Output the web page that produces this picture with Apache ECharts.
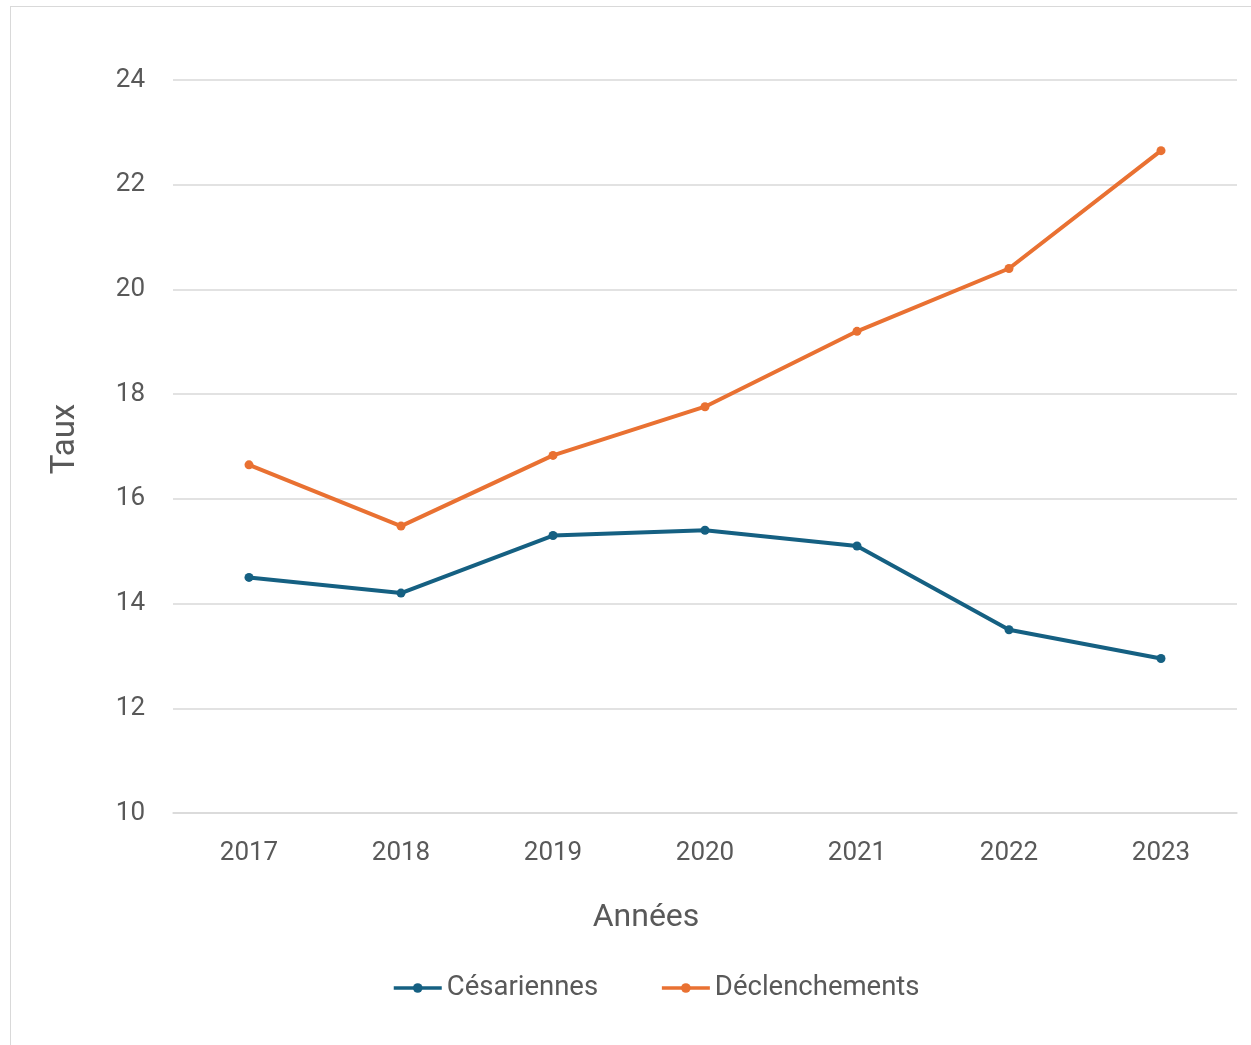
<!DOCTYPE html>
<html><head><meta charset="utf-8">
<script src="https://cdn.jsdelivr.net/npm/echarts@6/dist/echarts.min.js"></script>
<style>
html,body{margin:0;padding:0;background:#fff;}
#frame{position:absolute;left:10px;top:6px;width:1260px;height:1060px;border:1.5px solid #d9d9d9;box-sizing:border-box;}
#c{position:absolute;left:0;top:0;width:1251px;height:1045px;}
</style></head>
<body>
<div id="frame"></div>
<div id="c"></div>
<script>
const years = ['2017','2018','2019','2020','2021','2022','2023'];
const cesariennes = [14.5, 14.2, 15.3, 15.4, 15.1, 13.5, 12.95];
const declenchements = [16.65, 15.48, 16.83, 17.76, 19.2, 20.4, 22.65];
const seriesNames = ['Césariennes', 'Déclenchements'];
const xAxisTitle = 'Années';
const yAxisTitle = 'Taux';
const FONT = 'Roboto';
const TXT = '#595959';
const chart = echarts.init(document.getElementById('c'), null, {renderer:'canvas'});
chart.setOption({
  backgroundColor: 'transparent',
  animation: false,
  grid: {left: 173, right: 14, top: 80, bottom: 232, containLabel: false},
  legend: {
    top: 969, left: 387,
    itemWidth: 48, itemHeight: 12, itemGap: 62,
    lineStyle: {width: 3.5},
    textStyle: {fontFamily: FONT, fontSize: 27.5, color: TXT},
    data: seriesNames
  },
  graphic: [
    {type: 'text', x: 646, y: 918, style: {text: xAxisTitle, font: '32px ' + FONT, fill: TXT, align: 'center', verticalAlign: 'middle'}},
    {type: 'text', x: 66, y: 439, rotation: Math.PI / 2, style: {text: yAxisTitle, font: '33px ' + FONT, fill: TXT, align: 'center', verticalAlign: 'middle'}}
  ],
  xAxis: {
    type: 'category', data: years, boundaryGap: true,
    axisLine: {show: true, lineStyle: {color: '#d9d9d9', width: 1.5}},
    axisTick: {show: false},
    axisLabel: {fontFamily: FONT, fontSize: 26, color: TXT, margin: 27}
  },
  yAxis: {
    type: 'value', min: 10, max: 24, interval: 2,
    axisLine: {show: false}, axisTick: {show: false},
    axisLabel: {fontFamily: FONT, fontSize: 26, color: TXT, margin: 28},
    splitLine: {lineStyle: {color: '#d9d9d9', width: 1.5}}
  },
  series: [
    {name: seriesNames[0], type: 'line', data: cesariennes, color: '#156082',
     symbol: 'circle', symbolSize: 9, lineStyle: {width: 4}},
    {name: seriesNames[1], type: 'line', data: declenchements, color: '#E97132',
     symbol: 'circle', symbolSize: 9, lineStyle: {width: 4}}
  ]
});
</script>
</body></html>
